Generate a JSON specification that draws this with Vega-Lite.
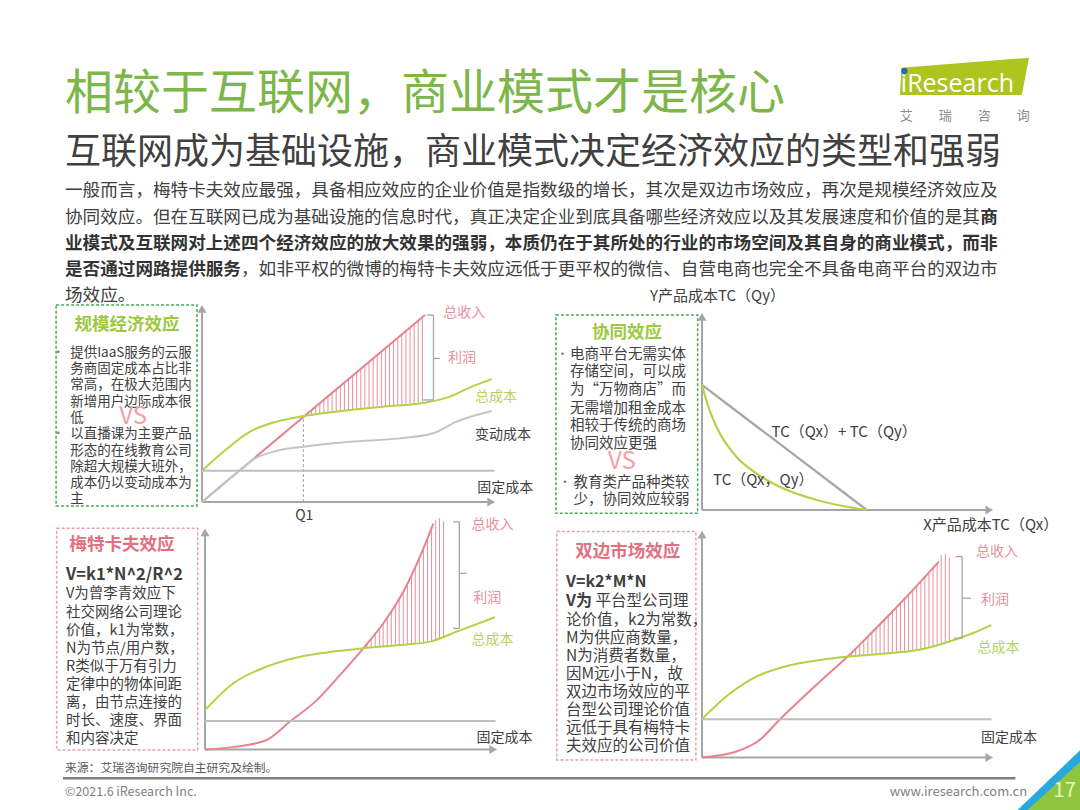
{
  "$schema": "https://vega.github.io/schema/vega-lite/v6.json",
  "width": 1080,
  "height": 810,
  "autosize": {"type": "fit", "contains": "padding"},
  "padding": 0,
  "background": "white",
  "config": {
    "view": {"stroke": null},
    "font": "Noto Sans CJK SC",
    "text": {"font": "Noto Sans CJK SC"},
    "axis": {"disable": true},
    "legend": {"disable": true}
  },
  "datasets": {
    "axes": [
      {"q": 0, "v": 0, "q2": 0, "v2": 9.7},
      {"q": 0, "v": 0, "q2": 9.8, "v2": 0}
    ],
    "arrows": [
      {"q": 0, "v": 9.8, "d": "up"},
      {"q": 9.87, "v": 0, "d": "right"}
    ],
    "page_txt": [
      {"col": 0, "row": -2.669, "t": "相较于互联网，商业模式才是核心", "r": "title"},
      {"col": 0, "row": -0.467, "t": "互联网成为基础设施，商业模式决定经济效应的类型和强弱", "r": "subtitle"},
      {"col": 0, "row": 1, "t": "一般而言，梅特卡夫效应最强，具备相应效应的企业价值是指数级的增长，其次是双边市场效应，再次是规模经济效应及", "r": "para"},
      {"col": 0, "row": 2, "t": "协同效应。但在互联网已成为基础设施的信息时代，真正决定企业到底具备哪些经济效应以及其发展速度和价值的是其", "r": "para"},
      {"col": 52, "row": 2, "t": "商", "r": "parab"},
      {"col": 0, "row": 3, "t": "业模式及互联网对上述四个经济效应的放大效果的强弱，本质仍在于其所处的行业的市场空间及其自身的商业模式，而非", "r": "parab"},
      {"col": 0, "row": 4, "t": "是否通过网路提供服务", "r": "parab"},
      {"col": 10, "row": 4, "t": "，如非平权的微博的梅特卡夫效应远低于更平权的微信、自营电商也完全不具备电商平台的双边市", "r": "para"},
      {"col": 0, "row": 5, "t": "场效应。", "r": "para"},
      {"col": 47.49, "row": -2.798, "t": "iResearch", "r": "logo"},
      {"col": 47.43, "row": -1.872, "t": "艾　　瑞　　咨　　询", "r": "logocn"},
      {"col": 0, "row": 22.966, "t": "来源：艾瑞咨询研究院自主研究及绘制。", "r": "src"},
      {"col": 0, "row": 23.899, "t": "©2021.6 iResearch Inc.", "r": "copy"},
      {"col": 46.857, "row": 23.899, "t": "www.iresearch.com.cn", "r": "web"},
      {"col": 56.8, "row": 23.842, "t": "17", "r": "num"}
    ],
    "page_pts": [
      {"col": 55.714, "row": 23.042, "k": "blue"},
      {"col": 55.714, "row": 23.042, "k": "green"},
      {"col": 51.11, "row": -3.381, "k": "logo"},
      {"col": 47.69, "row": -3.587, "k": "dot"}
    ],
    "page_rule": [{"col": -0.114, "row": 23.358, "col2": 54.0}],
    "p1_box": [{"q": -4.98, "v": 10.0, "q2": -0.17, "v2": -0.2}],
    "p1_lines": [
      {"s": "总收入", "q": 0, "v": 0}, {"s": "总收入", "q": 7.61, "v": 9.49},
      {"s": "总成本", "q": 0, "v": 1.59}, {"s": "总成本", "q": 0.73, "v": 2.55}, {"s": "总成本", "q": 1.64, "v": 3.57},
      {"s": "总成本", "q": 2.55, "v": 4.08}, {"s": "总成本", "q": 3.46, "v": 4.36}, {"s": "总成本", "q": 5.05, "v": 4.67},
      {"s": "总成本", "q": 6.19, "v": 4.84}, {"s": "总成本", "q": 7.61, "v": 5.04}, {"s": "总成本", "q": 8.46, "v": 5.35},
      {"s": "总成本", "q": 9.15, "v": 5.82}, {"s": "总成本", "q": 9.89, "v": 6.24},
      {"s": "变动成本", "q": 0, "v": 0}, {"s": "变动成本", "q": 1.3, "v": 1.62}, {"s": "变动成本", "q": 1.8, "v": 2.2},
      {"s": "变动成本", "q": 2.55, "v": 2.6}, {"s": "变动成本", "q": 3.46, "v": 2.81}, {"s": "变动成本", "q": 5.05, "v": 3.06},
      {"s": "变动成本", "q": 6.75, "v": 3.23}, {"s": "变动成本", "q": 7.89, "v": 3.49}, {"s": "变动成本", "q": 8.69, "v": 4.08},
      {"s": "变动成本", "q": 9.89, "v": 4.62},
      {"s": "固定成本", "q": 0, "v": 1.59}, {"s": "固定成本", "q": 9.98, "v": 1.59}
    ],
    "p1_hatch": [
      {"q": 3.60, "lo": 4.39, "hi": 4.49}, {"q": 3.74, "lo": 4.41, "hi": 4.66}, {"q": 3.88, "lo": 4.44, "hi": 4.84},
      {"q": 4.02, "lo": 4.47, "hi": 5.01}, {"q": 4.16, "lo": 4.50, "hi": 5.19}, {"q": 4.30, "lo": 4.52, "hi": 5.36},
      {"q": 4.44, "lo": 4.55, "hi": 5.54}, {"q": 4.58, "lo": 4.58, "hi": 5.71}, {"q": 4.72, "lo": 4.61, "hi": 5.89},
      {"q": 4.86, "lo": 4.63, "hi": 6.06}, {"q": 5.00, "lo": 4.66, "hi": 6.24}, {"q": 5.14, "lo": 4.68, "hi": 6.41},
      {"q": 5.28, "lo": 4.70, "hi": 6.58}, {"q": 5.42, "lo": 4.73, "hi": 6.76}, {"q": 5.56, "lo": 4.75, "hi": 6.93},
      {"q": 5.70, "lo": 4.77, "hi": 7.11}, {"q": 5.84, "lo": 4.79, "hi": 7.28}, {"q": 5.98, "lo": 4.81, "hi": 7.46},
      {"q": 6.12, "lo": 4.83, "hi": 7.63}, {"q": 6.26, "lo": 4.85, "hi": 7.81}, {"q": 6.40, "lo": 4.87, "hi": 7.98},
      {"q": 6.54, "lo": 4.89, "hi": 8.16}, {"q": 6.68, "lo": 4.91, "hi": 8.33}, {"q": 6.82, "lo": 4.93, "hi": 8.50},
      {"q": 6.96, "lo": 4.95, "hi": 8.68}, {"q": 7.10, "lo": 4.97, "hi": 8.85}, {"q": 7.24, "lo": 4.99, "hi": 9.03},
      {"q": 7.38, "lo": 5.01, "hi": 9.20}, {"q": 7.52, "lo": 5.03, "hi": 9.38}
    ],
    "p1_q1": [{"q": 3.46, "v": 0, "q2": 3.46, "v2": 4.36}],
    "p1_brk": [
      {"q": 7.9, "v": 9.49, "q2": 7.9, "v2": 5.18},
      {"q": 7.67, "v": 9.49, "q2": 7.9, "v2": 9.49},
      {"q": 7.55, "v": 5.18, "q2": 7.9, "v2": 5.18},
      {"q": 7.9, "v": 7.29, "q2": 8.12, "v2": 7.29}
    ],
    "p1_lab": [
      {"q": 8.23, "v": 9.59, "t": "总收入"},
      {"q": 8.4, "v": 7.29, "t": "利润"},
      {"q": 9.32, "v": 5.33, "t": "总成本"},
      {"q": 9.32, "v": 3.4, "t": "变动成本"},
      {"q": 9.39, "v": 0.71, "t": "固定成本"},
      {"q": 3.18, "v": -0.71, "t": "Q1"}
    ],
    "p1_txt": [
      {"q": -2.56, "v": 8.98, "t": "规模经济效应", "r": "title"},
      {"q": -4.5, "v": 7.574, "t": "提供IaaS服务的云服", "r": "line"},
      {"q": -4.5, "v": 6.746, "t": "务商固定成本占比非", "r": "line"},
      {"q": -4.5, "v": 5.919, "t": "常高，在极大范围内", "r": "line"},
      {"q": -4.5, "v": 5.091, "t": "新增用户边际成本很", "r": "line"},
      {"q": -4.5, "v": 4.264, "t": "低", "r": "line"},
      {"q": -4.5, "v": 3.437, "t": "以直播课为主要产品", "r": "line"},
      {"q": -4.5, "v": 2.609, "t": "形态的在线教育公司", "r": "line"},
      {"q": -4.5, "v": 1.782, "t": "除超大规模大班外，", "r": "line"},
      {"q": -4.5, "v": 0.954, "t": "成本仍以变动成本为", "r": "line"},
      {"q": -4.5, "v": 0.127, "t": "主", "r": "line"},
      {"q": -4.91, "v": 7.574, "t": "•", "r": "bullet"},
      {"q": -4.91, "v": 3.437, "t": "•", "r": "bullet"},
      {"q": -2.35, "v": 4.33, "t": "VS", "r": "vs"}
    ],
    "p2_box": [{"q": -5.02, "v": 9.9, "q2": -0.15, "v2": -0.17}],
    "p2_lines": [
      {"s": "TCsum", "q": 0, "v": 6.35}, {"s": "TCsum", "q": 5.66, "v": 0},
      {"s": "TCjoint", "q": 0, "v": 6.35}, {"s": "TCjoint", "q": 0.22, "v": 5.24}, {"s": "TCjoint", "q": 0.5, "v": 4.21},
      {"s": "TCjoint", "q": 1.19, "v": 2.69}, {"s": "TCjoint", "q": 1.88, "v": 1.85}, {"s": "TCjoint", "q": 2.8, "v": 1.09},
      {"s": "TCjoint", "q": 3.94, "v": 0.51}, {"s": "TCjoint", "q": 5.66, "v": 0}
    ],
    "p2_lab": [
      {"q": 2.39, "v": 3.97, "t": "TC（Qx）+ TC（Qy）"},
      {"q": 0.38, "v": 1.52, "t": "TC（Qx，Qy）"},
      {"q": -1.79, "v": 10.86, "t": "Y产品成本TC（Qy）"},
      {"q": 7.6, "v": -0.76, "t": "X产品成本TC（Qx）"}
    ],
    "p2_txt": [
      {"q": -2.58, "v": 8.97, "t": "协同效应", "r": "title"},
      {"q": -4.54, "v": 7.893, "t": "电商平台无需实体", "r": "line"},
      {"q": -4.54, "v": 6.980, "t": "存储空间，可以成", "r": "line"},
      {"q": -4.54, "v": 6.066, "t": "为“万物商店”而", "r": "line"},
      {"q": -4.54, "v": 5.152, "t": "无需增加租金成本", "r": "line"},
      {"q": -4.54, "v": 4.239, "t": "相较于传统的商场", "r": "line"},
      {"q": -4.54, "v": 3.325, "t": "协同效应更强", "r": "line"},
      {"q": -4.42, "v": 1.376, "t": "教育类产品种类较", "r": "line"},
      {"q": -4.42, "v": 0.497, "t": "少，协同效应较弱", "r": "line"},
      {"q": -4.79, "v": 7.893, "t": "•", "r": "bullet"},
      {"q": -4.71, "v": 1.376, "t": "•", "r": "bullet"},
      {"q": -2.75, "v": 2.45, "t": "VS", "r": "vs"}
    ],
    "p3_box": [{"q": -5.08, "v": 9.99, "q2": -0.25, "v2": -0.02}],
    "p3_lines": [
      {"s": "总收入", "q": 0, "v": 0}, {"s": "总收入", "q": 1.09, "v": 0.13}, {"s": "总收入", "q": 2.11, "v": 0.43},
      {"s": "总收入", "q": 2.91, "v": 1.26}, {"s": "总收入", "q": 3.83, "v": 2.23}, {"s": "总收入", "q": 4.62, "v": 3.36},
      {"s": "总收入", "q": 5.42, "v": 4.57}, {"s": "总收入", "q": 6.11, "v": 5.70}, {"s": "总收入", "q": 6.79, "v": 7.12},
      {"s": "总收入", "q": 7.36, "v": 8.70}, {"s": "总收入", "q": 7.82, "v": 10.2},
      {"s": "总成本", "q": 0, "v": 1.78}, {"s": "总成本", "q": 0.97, "v": 2.99}, {"s": "总成本", "q": 2.11, "v": 3.74},
      {"s": "总成本", "q": 3.25, "v": 4.19}, {"s": "总成本", "q": 4.39, "v": 4.42}, {"s": "总成本", "q": 5.42, "v": 4.57},
      {"s": "总成本", "q": 6.68, "v": 4.72}, {"s": "总成本", "q": 7.71, "v": 4.87}, {"s": "总成本", "q": 8.62, "v": 5.32},
      {"s": "总成本", "q": 9.93, "v": 5.97},
      {"s": "固定成本", "q": 0, "v": 1.29}, {"s": "固定成本", "q": 9.95, "v": 1.29}
    ],
    "p3_hatch": [
      {"q": 5.55, "lo": 4.59, "hi": 4.78}, {"q": 5.69, "lo": 4.60, "hi": 5.01}, {"q": 5.83, "lo": 4.62, "hi": 5.24},
      {"q": 5.97, "lo": 4.64, "hi": 5.47}, {"q": 6.10, "lo": 4.65, "hi": 5.68}, {"q": 6.24, "lo": 4.67, "hi": 5.97},
      {"q": 6.38, "lo": 4.68, "hi": 6.26}, {"q": 6.52, "lo": 4.70, "hi": 6.56}, {"q": 6.65, "lo": 4.72, "hi": 6.83},
      {"q": 6.79, "lo": 4.74, "hi": 7.12}, {"q": 6.93, "lo": 4.76, "hi": 7.51}, {"q": 7.07, "lo": 4.78, "hi": 7.90},
      {"q": 7.20, "lo": 4.80, "hi": 8.26}, {"q": 7.34, "lo": 4.82, "hi": 8.65}, {"q": 7.48, "lo": 4.84, "hi": 9.09},
      {"q": 7.62, "lo": 4.86, "hi": 9.55}, {"q": 7.76, "lo": 4.89, "hi": 10.0}, {"q": 7.90, "lo": 4.96, "hi": 10.35},
      {"q": 8.03, "lo": 5.03, "hi": 10.45}, {"q": 8.17, "lo": 5.10, "hi": 10.3}
    ],
    "p3_brk": [
      {"q": 8.71, "v": 10.28, "q2": 8.71, "v2": 5.47},
      {"q": 8.5, "v": 10.28, "q2": 8.71, "v2": 10.28},
      {"q": 8.5, "v": 5.47, "q2": 8.71, "v2": 5.47},
      {"q": 8.71, "v": 7.95, "q2": 8.96, "v2": 7.95}
    ],
    "p3_lab": [
      {"q": 9.13, "v": 10.14, "t": "总收入"},
      {"q": 9.19, "v": 6.83, "t": "利润"},
      {"q": 9.13, "v": 4.94, "t": "总成本"},
      {"q": 9.3, "v": 0.51, "t": "固定成本"}
    ],
    "p3_txt": [
      {"q": -2.84, "v": 9.23, "t": "梅特卡夫效应", "r": "title"},
      {"q": -4.76, "v": 7.88, "t": "V=k1*N^2/R^2", "r": "formula"},
      {"q": -4.76, "v": 6.998, "t": "V为曾李青效应下", "r": "line"},
      {"q": -4.76, "v": 6.181, "t": "社交网络公司理论", "r": "line"},
      {"q": -4.76, "v": 5.363, "t": "价值，k1为常数，", "r": "line"},
      {"q": -4.76, "v": 4.546, "t": "N为节点/用户数，", "r": "line"},
      {"q": -4.76, "v": 3.729, "t": "R类似于万有引力", "r": "line"},
      {"q": -4.76, "v": 2.912, "t": "定律中的物体间距", "r": "line"},
      {"q": -4.76, "v": 2.095, "t": "离，由节点连接的", "r": "line"},
      {"q": -4.76, "v": 1.278, "t": "时长、速度、界面", "r": "line"},
      {"q": -4.76, "v": 0.460, "t": "和内容决定", "r": "line"}
    ],
    "p4_box": [{"q": -4.99, "v": 9.93, "q2": -0.21, "v2": -0.11}],
    "p4_lines": [
      {"s": "总收入", "q": 0, "v": 0}, {"s": "总收入", "q": 1.16, "v": 0.25}, {"s": "总收入", "q": 1.98, "v": 0.77},
      {"s": "总收入", "q": 2.68, "v": 1.68}, {"s": "总收入", "q": 3.49, "v": 2.67}, {"s": "总收入", "q": 4.30, "v": 3.63},
      {"s": "总收入", "q": 5.0, "v": 4.43}, {"s": "总收入", "q": 5.81, "v": 5.46}, {"s": "总收入", "q": 6.98, "v": 7.0},
      {"s": "总收入", "q": 8.14, "v": 8.61},
      {"s": "总成本", "q": 0, "v": 1.68}, {"s": "总成本", "q": 0.82, "v": 2.67}, {"s": "总成本", "q": 1.75, "v": 3.48},
      {"s": "总成本", "q": 2.91, "v": 4.02}, {"s": "总成本", "q": 4.07, "v": 4.29}, {"s": "总成本", "q": 5.0, "v": 4.43},
      {"s": "总成本", "q": 6.40, "v": 4.58}, {"s": "总成本", "q": 7.56, "v": 4.76}, {"s": "总成本", "q": 8.48, "v": 5.09},
      {"s": "总成本", "q": 9.30, "v": 5.46}, {"s": "总成本", "q": 9.94, "v": 5.82},
      {"s": "固定成本", "q": 0, "v": 1.68}, {"s": "固定成本", "q": 9.95, "v": 1.68}
    ],
    "p4_hatch": [
      {"q": 5.14, "lo": 4.44, "hi": 4.61}, {"q": 5.28, "lo": 4.46, "hi": 4.79}, {"q": 5.42, "lo": 4.47, "hi": 4.96},
      {"q": 5.56, "lo": 4.49, "hi": 5.14}, {"q": 5.70, "lo": 4.50, "hi": 5.32}, {"q": 5.84, "lo": 4.52, "hi": 5.50},
      {"q": 5.98, "lo": 4.53, "hi": 5.68}, {"q": 6.12, "lo": 4.55, "hi": 5.87}, {"q": 6.26, "lo": 4.56, "hi": 6.05},
      {"q": 6.40, "lo": 4.58, "hi": 6.24}, {"q": 6.54, "lo": 4.60, "hi": 6.42}, {"q": 6.68, "lo": 4.62, "hi": 6.60},
      {"q": 6.82, "lo": 4.64, "hi": 6.79}, {"q": 6.96, "lo": 4.66, "hi": 6.97}, {"q": 7.10, "lo": 4.69, "hi": 7.17},
      {"q": 7.24, "lo": 4.71, "hi": 7.36}, {"q": 7.38, "lo": 4.73, "hi": 7.56}, {"q": 7.52, "lo": 4.75, "hi": 7.75},
      {"q": 7.66, "lo": 4.80, "hi": 7.95}, {"q": 7.80, "lo": 4.85, "hi": 8.14}, {"q": 7.94, "lo": 4.90, "hi": 8.34},
      {"q": 8.08, "lo": 4.95, "hi": 8.53}, {"q": 8.22, "lo": 5.00, "hi": 8.90}, {"q": 8.36, "lo": 5.05, "hi": 8.95},
      {"q": 8.50, "lo": 5.10, "hi": 8.80}
    ],
    "p4_brk": [
      {"q": 8.94, "v": 8.83, "q2": 8.94, "v2": 5.24},
      {"q": 8.71, "v": 8.83, "q2": 8.94, "v2": 8.83},
      {"q": 8.66, "v": 5.24, "q2": 8.94, "v2": 5.24},
      {"q": 8.94, "v": 7.0, "q2": 9.24, "v2": 7.0}
    ],
    "p4_lab": [
      {"q": 9.42, "v": 9.05, "t": "总收入"},
      {"q": 9.59, "v": 6.92, "t": "利润"},
      {"q": 9.47, "v": 4.8, "t": "总成本"},
      {"q": 9.59, "v": 0.84, "t": "固定成本"}
    ],
    "p4_txt": [
      {"q": -2.55, "v": 9.05, "t": "双边市场效应", "r": "title"},
      {"q": -4.67, "v": 7.73, "t": "V=k2*M*N", "r": "formula"},
      {"q": -4.67, "v": 6.866, "t": "V为", "r": "formula"},
      {"q": -3.66, "v": 6.866, "t": "平台型公司理", "r": "line"},
      {"q": -4.67, "v": 6.062, "t": "论价值，k2为常数，", "r": "line"},
      {"q": -4.67, "v": 5.266, "t": "M为供应商数量，", "r": "line"},
      {"q": -4.67, "v": 4.470, "t": "N为消费者数量，", "r": "line"},
      {"q": -4.67, "v": 3.675, "t": "因M远小于N，故", "r": "line"},
      {"q": -4.67, "v": 2.879, "t": "双边市场效应的平", "r": "line"},
      {"q": -4.67, "v": 2.084, "t": "台型公司理论价值", "r": "line"},
      {"q": -4.67, "v": 1.288, "t": "远低于具有梅特卡", "r": "line"},
      {"q": -4.67, "v": 0.492, "t": "夫效应的公司价值", "r": "line"}
    ]
  },
  "resolve": {"scale": {"x": "independent", "y": "independent"}},
  "layer": [
    {
      "encoding": {
        "x": {"field": "col", "type": "quantitative", "axis": null, "scale": {"domain": [0, 50], "range": [65, 945], "nice": false, "zero": false}},
        "y": {"field": "row", "type": "quantitative", "axis": null, "scale": {"domain": [1, 5], "range": [191.4, 296.4], "nice": false, "zero": false}}
      },
      "layer": [
        {"data": {"name": "page_pts"}, "transform": [{"filter": "datum.k === 'blue'"}], "mark": {"type": "point", "filled": true, "opacity": 1, "size": 6400, "color": "#29a8df", "shape": "M-0.7,1L1,-0.625L1,1Z"}},
        {"data": {"name": "page_pts"}, "transform": [{"filter": "datum.k === 'green'"}], "mark": {"type": "point", "filled": true, "opacity": 1, "size": 6400, "color": "#8fc640", "shape": "M-0.45,1L1,-0.325L1,1Z"}},
        {"data": {"name": "page_pts"}, "transform": [{"filter": "datum.k === 'logo'"}], "mark": {"type": "point", "filled": true, "opacity": 1, "size": 16900, "color": "#aec51f", "shape": "M-0.969,-0.134L0.992,-0.288L0.88,0.285L-0.995,0.285Z"}},
        {"data": {"name": "page_rule"}, "mark": {"type": "rule", "color": "#7f7f7f", "strokeWidth": 2.5}, "encoding": {"x2": {"field": "col2"}}},
        {"data": {"name": "page_txt"}, "transform": [{"filter": "datum.r === 'title'"}], "mark": {"type": "text", "align": "left", "baseline": "middle", "fontSize": 48, "color": "#7db649"}, "encoding": {"text": {"field": "t"}}},
        {"data": {"name": "page_txt"}, "transform": [{"filter": "datum.r === 'subtitle'"}], "mark": {"type": "text", "align": "left", "baseline": "middle", "fontSize": 36, "color": "#404040"}, "encoding": {"text": {"field": "t"}}},
        {"data": {"name": "page_txt"}, "transform": [{"filter": "datum.r === 'para'"}], "mark": {"type": "text", "align": "left", "baseline": "middle", "fontSize": 17.6, "color": "#404040"}, "encoding": {"text": {"field": "t"}}},
        {"data": {"name": "page_txt"}, "transform": [{"filter": "datum.r === 'parab'"}], "mark": {"type": "text", "align": "left", "baseline": "middle", "fontSize": 17.6, "fontWeight": "bold", "color": "#333333"}, "encoding": {"text": {"field": "t"}}},
        {"data": {"name": "page_txt"}, "transform": [{"filter": "datum.r === 'logo'"}], "mark": {"type": "text", "align": "left", "baseline": "alphabetic", "fontSize": 25, "font": "Open Sans", "color": "#ffffff"}, "encoding": {"text": {"field": "t"}}},
        {"data": {"name": "page_pts"}, "transform": [{"filter": "datum.k === 'dot'"}], "mark": {"type": "point", "filled": true, "opacity": 1, "size": 40, "color": "#1f6db3", "shape": "circle"}},
        {"data": {"name": "page_txt"}, "transform": [{"filter": "datum.r === 'logocn'"}], "mark": {"type": "text", "align": "left", "baseline": "middle", "fontSize": 13, "color": "#8c8c8c"}, "encoding": {"text": {"field": "t"}}},
        {"data": {"name": "page_txt"}, "transform": [{"filter": "datum.r === 'src'"}], "mark": {"type": "text", "align": "left", "baseline": "middle", "fontSize": 11.8, "color": "#595959"}, "encoding": {"text": {"field": "t"}}},
        {"data": {"name": "page_txt"}, "transform": [{"filter": "datum.r === 'copy'"}], "mark": {"type": "text", "align": "left", "baseline": "middle", "fontSize": 12.5, "color": "#7f7f7f"}, "encoding": {"text": {"field": "t"}}},
        {"data": {"name": "page_txt"}, "transform": [{"filter": "datum.r === 'web'"}], "mark": {"type": "text", "align": "left", "baseline": "middle", "fontSize": 13, "color": "#7f7f7f"}, "encoding": {"text": {"field": "t"}}},
        {"data": {"name": "page_txt"}, "transform": [{"filter": "datum.r === 'num'"}], "mark": {"type": "text", "align": "center", "baseline": "middle", "fontSize": 20, "color": "#eaf3b8"}, "encoding": {"text": {"field": "t"}}}
      ]
    },
    {
      "encoding": {
        "x": {"field": "q", "type": "quantitative", "axis": null, "scale": {"domain": [0, 10], "range": [202, 495], "nice": false, "zero": false}},
        "y": {"field": "v", "type": "quantitative", "axis": null, "scale": {"domain": [0, 10], "range": [502, 305], "nice": false, "zero": false}}
      },
      "layer": [
        {"data": {"name": "p1_box"}, "mark": {"type": "rect", "fill": "#ffffff", "fillOpacity": 0, "stroke": "#4aa85a", "strokeWidth": 1.5, "strokeDash": [3, 2]}, "encoding": {"x2": {"field": "q2"}, "y2": {"field": "v2"}}},
        {"data": {"name": "axes"}, "mark": {"type": "rule", "color": "#a6a6a6", "strokeWidth": 2}, "encoding": {"x2": {"field": "q2"}, "y2": {"field": "v2"}}},
        {"data": {"name": "arrows"}, "mark": {"type": "point", "filled": true, "size": 80, "color": "#a6a6a6", "opacity": 1}, "encoding": {"shape": {"field": "d", "type": "nominal", "legend": null, "scale": {"domain": ["up", "right"], "range": ["triangle-up", "triangle-right"]}}}},
        {"data": {"name": "p1_hatch"}, "mark": {"type": "rule", "color": "#e98f9b", "strokeWidth": 1}, "encoding": {"y": {"field": "lo", "type": "quantitative", "axis": null}, "y2": {"field": "hi"}}},
        {"data": {"name": "p1_q1"}, "mark": {"type": "rule", "color": "#a6a6a6", "strokeWidth": 1, "strokeDash": [3, 2]}, "encoding": {"x2": {"field": "q2"}, "y2": {"field": "v2"}}},
        {"data": {"name": "p1_lines"}, "mark": {"type": "line", "interpolate": "monotone", "strokeWidth": 2}, "encoding": {"stroke": {"field": "s", "type": "nominal", "legend": null, "scale": {"domain": ["总收入", "总成本", "变动成本", "固定成本", "TCsum", "TCjoint"], "range": ["#e8838f", "#b3d246", "#c4c4c4", "#bfbfbf", "#a6a6a6", "#b3d246"]}}}},
        {"data": {"name": "p1_brk"}, "mark": {"type": "rule", "color": "#a6a6a6", "strokeWidth": 1.3}, "encoding": {"x2": {"field": "q2"}, "y2": {"field": "v2"}}},
        {"data": {"name": "p1_lab"}, "mark": {"type": "text", "align": "left", "baseline": "middle", "fontSize": 14}, "encoding": {"text": {"field": "t"}, "fill": {"field": "t", "type": "nominal", "legend": null, "scale": {"domain": ["总收入", "利润", "总成本", "变动成本", "固定成本", "Q1", "TC（Qx）+ TC（Qy）", "TC（Qx，Qy）", "Y产品成本TC（Qy）", "X产品成本TC（Qx）"], "range": ["#e8909b", "#e8909b", "#b7d35c", "#404040", "#404040", "#404040", "#404040", "#404040", "#404040", "#404040"]}}}},
        {"data": {"name": "p1_txt"}, "transform": [{"filter": "datum.r === 'title'"}], "mark": {"type": "text", "align": "center", "baseline": "middle", "fontSize": 17.5, "fontWeight": "bold", "color": "#9dc93e"}, "encoding": {"text": {"field": "t"}}},
        {"data": {"name": "p1_txt"}, "transform": [{"filter": "datum.r === 'line'"}], "mark": {"type": "text", "align": "left", "baseline": "middle", "fontSize": 13.5, "color": "#404040"}, "encoding": {"text": {"field": "t"}}},
        {"data": {"name": "p1_txt"}, "transform": [{"filter": "datum.r === 'bullet'"}], "mark": {"type": "text", "align": "center", "baseline": "middle", "fontSize": 12, "color": "#7f7f7f"}, "encoding": {"text": {"field": "t"}}},
        {"data": {"name": "p1_txt"}, "transform": [{"filter": "datum.r === 'vs'"}], "mark": {"type": "text", "align": "center", "baseline": "middle", "fontSize": 24, "color": "#f3a1a9"}, "encoding": {"text": {"field": "t"}}}
      ]
    },
    {
      "encoding": {
        "x": {"field": "q", "type": "quantitative", "axis": null, "scale": {"domain": [0, 10], "range": [702, 993], "nice": false, "zero": false}},
        "y": {"field": "v", "type": "quantitative", "axis": null, "scale": {"domain": [0, 10], "range": [510, 313], "nice": false, "zero": false}}
      },
      "layer": [
        {"data": {"name": "p2_box"}, "mark": {"type": "rect", "fill": "#ffffff", "fillOpacity": 0, "stroke": "#4aa85a", "strokeWidth": 1.5, "strokeDash": [3, 2]}, "encoding": {"x2": {"field": "q2"}, "y2": {"field": "v2"}}},
        {"data": {"name": "axes"}, "mark": {"type": "rule", "color": "#a6a6a6", "strokeWidth": 2}, "encoding": {"x2": {"field": "q2"}, "y2": {"field": "v2"}}},
        {"data": {"name": "arrows"}, "mark": {"type": "point", "filled": true, "size": 80, "color": "#a6a6a6", "opacity": 1}, "encoding": {"shape": {"field": "d", "type": "nominal", "legend": null, "scale": {"domain": ["up", "right"], "range": ["triangle-up", "triangle-right"]}}}},
        {"data": {"name": "p2_lines"}, "mark": {"type": "line", "interpolate": "monotone", "strokeWidth": 2.2}, "encoding": {"stroke": {"field": "s", "type": "nominal", "legend": null, "scale": {"domain": ["总收入", "总成本", "变动成本", "固定成本", "TCsum", "TCjoint"], "range": ["#e8838f", "#b3d246", "#c4c4c4", "#bfbfbf", "#a6a6a6", "#b3d246"]}}}},
        {"data": {"name": "p2_lab"}, "mark": {"type": "text", "align": "left", "baseline": "middle", "fontSize": 15}, "encoding": {"text": {"field": "t"}, "fill": {"field": "t", "type": "nominal", "legend": null, "scale": {"domain": ["总收入", "利润", "总成本", "变动成本", "固定成本", "Q1", "TC（Qx）+ TC（Qy）", "TC（Qx，Qy）", "Y产品成本TC（Qy）", "X产品成本TC（Qx）"], "range": ["#e8909b", "#e8909b", "#b7d35c", "#404040", "#404040", "#404040", "#404040", "#404040", "#404040", "#404040"]}}}},
        {"data": {"name": "p2_txt"}, "transform": [{"filter": "datum.r === 'title'"}], "mark": {"type": "text", "align": "center", "baseline": "middle", "fontSize": 17.5, "fontWeight": "bold", "color": "#9dc93e"}, "encoding": {"text": {"field": "t"}}},
        {"data": {"name": "p2_txt"}, "transform": [{"filter": "datum.r === 'line'"}], "mark": {"type": "text", "align": "left", "baseline": "middle", "fontSize": 14.5, "color": "#404040"}, "encoding": {"text": {"field": "t"}}},
        {"data": {"name": "p2_txt"}, "transform": [{"filter": "datum.r === 'bullet'"}], "mark": {"type": "text", "align": "center", "baseline": "middle", "fontSize": 12, "color": "#7f7f7f"}, "encoding": {"text": {"field": "t"}}},
        {"data": {"name": "p2_txt"}, "transform": [{"filter": "datum.r === 'vs'"}], "mark": {"type": "text", "align": "center", "baseline": "middle", "fontSize": 24, "color": "#f3a1a9"}, "encoding": {"text": {"field": "t"}}}
      ]
    },
    {
      "encoding": {
        "x": {"field": "q", "type": "quantitative", "axis": null, "scale": {"domain": [0, 10], "range": [205, 497], "nice": false, "zero": false}},
        "y": {"field": "v", "type": "quantitative", "axis": null, "scale": {"domain": [0, 10], "range": [749.5, 528], "nice": false, "zero": false}}
      },
      "layer": [
        {"data": {"name": "p3_box"}, "mark": {"type": "rect", "fill": "#ffffff", "fillOpacity": 0, "stroke": "#e6a2aa", "strokeWidth": 1.5, "strokeDash": [3, 2]}, "encoding": {"x2": {"field": "q2"}, "y2": {"field": "v2"}}},
        {"data": {"name": "axes"}, "mark": {"type": "rule", "color": "#a6a6a6", "strokeWidth": 2}, "encoding": {"x2": {"field": "q2"}, "y2": {"field": "v2"}}},
        {"data": {"name": "arrows"}, "mark": {"type": "point", "filled": true, "size": 80, "color": "#a6a6a6", "opacity": 1}, "encoding": {"shape": {"field": "d", "type": "nominal", "legend": null, "scale": {"domain": ["up", "right"], "range": ["triangle-up", "triangle-right"]}}}},
        {"data": {"name": "p3_hatch"}, "mark": {"type": "rule", "color": "#e98f9b", "strokeWidth": 1}, "encoding": {"y": {"field": "lo", "type": "quantitative", "axis": null}, "y2": {"field": "hi"}}},
        {"data": {"name": "p3_lines"}, "mark": {"type": "line", "interpolate": "monotone", "strokeWidth": 2}, "encoding": {"stroke": {"field": "s", "type": "nominal", "legend": null, "scale": {"domain": ["总收入", "总成本", "变动成本", "固定成本", "TCsum", "TCjoint"], "range": ["#e8838f", "#b3d246", "#c4c4c4", "#bfbfbf", "#a6a6a6", "#b3d246"]}}}},
        {"data": {"name": "p3_brk"}, "mark": {"type": "rule", "color": "#a6a6a6", "strokeWidth": 1.3}, "encoding": {"x2": {"field": "q2"}, "y2": {"field": "v2"}}},
        {"data": {"name": "p3_lab"}, "mark": {"type": "text", "align": "left", "baseline": "middle", "fontSize": 14}, "encoding": {"text": {"field": "t"}, "fill": {"field": "t", "type": "nominal", "legend": null, "scale": {"domain": ["总收入", "利润", "总成本", "变动成本", "固定成本", "Q1", "TC（Qx）+ TC（Qy）", "TC（Qx，Qy）", "Y产品成本TC（Qy）", "X产品成本TC（Qx）"], "range": ["#e8909b", "#e8909b", "#b7d35c", "#404040", "#404040", "#404040", "#404040", "#404040", "#404040", "#404040"]}}}},
        {"data": {"name": "p3_txt"}, "transform": [{"filter": "datum.r === 'title'"}], "mark": {"type": "text", "align": "center", "baseline": "middle", "fontSize": 17.5, "fontWeight": "bold", "color": "#e3707f"}, "encoding": {"text": {"field": "t"}}},
        {"data": {"name": "p3_txt"}, "transform": [{"filter": "datum.r === 'formula'"}], "mark": {"type": "text", "align": "left", "baseline": "middle", "fontSize": 16.5, "fontWeight": "bold", "color": "#404040"}, "encoding": {"text": {"field": "t"}}},
        {"data": {"name": "p3_txt"}, "transform": [{"filter": "datum.r === 'line'"}], "mark": {"type": "text", "align": "left", "baseline": "middle", "fontSize": 14.5, "color": "#404040"}, "encoding": {"text": {"field": "t"}}}
      ]
    },
    {
      "encoding": {
        "x": {"field": "q", "type": "quantitative", "axis": null, "scale": {"domain": [0, 10], "range": [702, 993], "nice": false, "zero": false}},
        "y": {"field": "v", "type": "quantitative", "axis": null, "scale": {"domain": [0, 10], "range": [757.5, 530], "nice": false, "zero": false}}
      },
      "layer": [
        {"data": {"name": "p4_box"}, "mark": {"type": "rect", "fill": "#ffffff", "fillOpacity": 0, "stroke": "#e6a2aa", "strokeWidth": 1.5, "strokeDash": [3, 2]}, "encoding": {"x2": {"field": "q2"}, "y2": {"field": "v2"}}},
        {"data": {"name": "axes"}, "mark": {"type": "rule", "color": "#a6a6a6", "strokeWidth": 2}, "encoding": {"x2": {"field": "q2"}, "y2": {"field": "v2"}}},
        {"data": {"name": "arrows"}, "mark": {"type": "point", "filled": true, "size": 80, "color": "#a6a6a6", "opacity": 1}, "encoding": {"shape": {"field": "d", "type": "nominal", "legend": null, "scale": {"domain": ["up", "right"], "range": ["triangle-up", "triangle-right"]}}}},
        {"data": {"name": "p4_hatch"}, "mark": {"type": "rule", "color": "#e98f9b", "strokeWidth": 1}, "encoding": {"y": {"field": "lo", "type": "quantitative", "axis": null}, "y2": {"field": "hi"}}},
        {"data": {"name": "p4_lines"}, "mark": {"type": "line", "interpolate": "monotone", "strokeWidth": 2}, "encoding": {"stroke": {"field": "s", "type": "nominal", "legend": null, "scale": {"domain": ["总收入", "总成本", "变动成本", "固定成本", "TCsum", "TCjoint"], "range": ["#e8838f", "#b3d246", "#c4c4c4", "#bfbfbf", "#a6a6a6", "#b3d246"]}}}},
        {"data": {"name": "p4_brk"}, "mark": {"type": "rule", "color": "#a6a6a6", "strokeWidth": 1.3}, "encoding": {"x2": {"field": "q2"}, "y2": {"field": "v2"}}},
        {"data": {"name": "p4_lab"}, "mark": {"type": "text", "align": "left", "baseline": "middle", "fontSize": 14}, "encoding": {"text": {"field": "t"}, "fill": {"field": "t", "type": "nominal", "legend": null, "scale": {"domain": ["总收入", "利润", "总成本", "变动成本", "固定成本", "Q1", "TC（Qx）+ TC（Qy）", "TC（Qx，Qy）", "Y产品成本TC（Qy）", "X产品成本TC（Qx）"], "range": ["#e8909b", "#e8909b", "#b7d35c", "#404040", "#404040", "#404040", "#404040", "#404040", "#404040", "#404040"]}}}},
        {"data": {"name": "p4_txt"}, "transform": [{"filter": "datum.r === 'title'"}], "mark": {"type": "text", "align": "center", "baseline": "middle", "fontSize": 17.5, "fontWeight": "bold", "color": "#e3707f"}, "encoding": {"text": {"field": "t"}}},
        {"data": {"name": "p4_txt"}, "transform": [{"filter": "datum.r === 'formula'"}], "mark": {"type": "text", "align": "left", "baseline": "middle", "fontSize": 16, "fontWeight": "bold", "color": "#404040"}, "encoding": {"text": {"field": "t"}}},
        {"data": {"name": "p4_txt"}, "transform": [{"filter": "datum.r === 'line'"}], "mark": {"type": "text", "align": "left", "baseline": "middle", "fontSize": 15.5, "color": "#404040"}, "encoding": {"text": {"field": "t"}}}
      ]
    }
  ]
}
